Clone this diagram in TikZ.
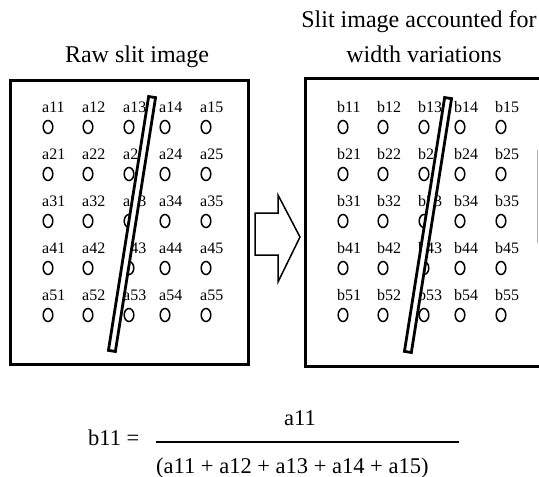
\documentclass[tikz,border=0pt]{standalone}
\usepackage{fontspec}
\setmainfont{Liberation Serif}
\usetikzlibrary{calc,positioning}

\begin{document}
\begin{tikzpicture}[x=1pt, y=-1pt,
    frame/.style={draw, line width=3pt},
    slit/.style={draw, fill=white, line width=2.8pt, rectangle, inner sep=0pt,
        minimum width=7pt, minimum height=257pt, rotate=-9},
    hole/.style={draw, line width=1.5pt},
    cell/.style={inner sep=0pt, anchor=west, font=\fontsize{16}{16}\selectfont},
    title/.style={inner sep=0pt, anchor=base, font=\fontsize{24}{29}\selectfont},
    formula/.style={inner sep=0pt, font=\fontsize{22.5}{27}\selectfont}]
    \useasboundingbox (0,0) rectangle (539,477);

    % titles
    \node[title] (rawtitle) at (137,62) {Raw slit image};
    \node[title] (corrtitle1) at (419,27) {Slit image accounted for};
    \node[title] (corrtitle2) at (424,62) {width variations};

    % the two slit images
    \draw[frame] (10,80) rectangle (248,364);
    \draw[frame] (305,78) rectangle (550,366);
    \foreach \p/\dx in {a/0, b/295} {
        \foreach \r in {1,...,5} {
            \foreach \c/\x in {1/42, 2/82, 3/123, 4/159, 5/200} {
                \node[cell] (\p\r\c) at (\x+\dx, 107+47*\r-47) {\p\r\c};
                \draw[hole] (\x+\dx+6, 127+47*\r-47) ellipse [x radius=4.8pt, y radius=6.5pt];
            }
        }
    }
    \node[slit] (slita) at (132,224) {};
    \node[slit] (slitb) at (428,225) {};

    % arrow between them
    \draw[line width=1.5pt, line join=miter] (255,213) -- (278,213) -- (278,195) -- (300,237)
        -- (278,282) -- (278,255) -- (255,255) -- cycle;
    \draw[gray!60, line width=0.8pt] (537,150) -- (537,243);

    % normalisation
    \node[formula, anchor=base west] (lhs) at (88,445) {b11 =};
    \node[formula, anchor=base] (num) at (300,425) {a11};
    \node[formula, anchor=base west] (den) at (156,473) {(a11 + a12 + a13 + a14 + a15)};
    \coordinate (barl) at (156,442);
    \coordinate (barr) at (459,442);
    \draw[line width=1.2pt] (barl) -- (barr);
\end{tikzpicture}
\end{document}
